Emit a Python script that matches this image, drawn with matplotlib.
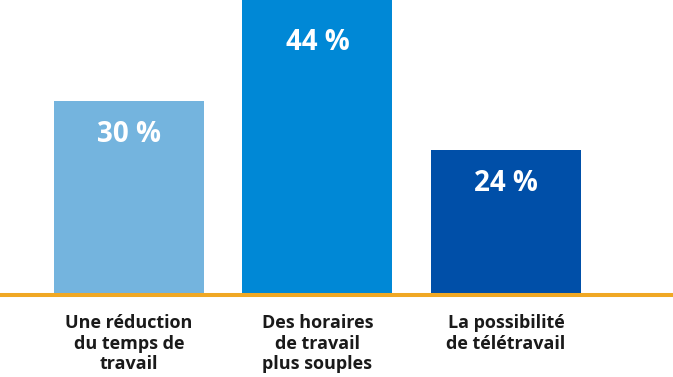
import matplotlib
matplotlib.use("Agg")
import matplotlib.pyplot as plt
from matplotlib import font_manager as fm

categories = ["Une réduction\ndu temps de\ntravail", "Des horaires\nde travail\nplus souples", "La possibilité\nde télétravail"]
values = [30, 44, 24]
value_labels = ["30 %", "44 %", "24 %"]
colors = ["#74B4DE", "#0088D6", "#004FA8"]

names = {f.name for f in fm.fontManager.ttflist}
fam = "Liberation Sans Narrow" if "Liberation Sans Narrow" in names else "Open Sans"

fig = plt.figure(figsize=(6.73, 3.77), dpi=100)
ax = fig.add_axes([0, 82/377, 1, 295/377])

x = list(range(len(values)))
ax.bar(x, values, width=0.796, color=colors, zorder=2)
ymin, ymax = 6.24, 6.24 + 295/8.17
ax.set_ylim(ymin, ymax)
ax.set_xlim(-0.684, 2.886)

for xi, v, lab in zip(x, values, value_labels):
    top = min(v, ymax)
    off = 42 if v > ymax else 34
    ax.annotate(lab, (xi, top), xytext=(0, -off), textcoords="offset pixels",
                ha="center", va="center", color="white", fontsize=20,
                fontweight="bold", family=fam)

ax.axhline(ymin, color="#F0A824", lw=2.9, zorder=3, clip_on=False)
for s in ax.spines.values():
    s.set_visible(False)
ax.set_yticks([])
ax.set_xticks(x)
ax.set_xticklabels(categories, fontsize=13, fontweight="bold", family=fam,
                   color="#1a1a1a", linespacing=1.15)
ax.tick_params(axis="x", length=0, pad=14)

fig.savefig("out.png", dpi=100)
